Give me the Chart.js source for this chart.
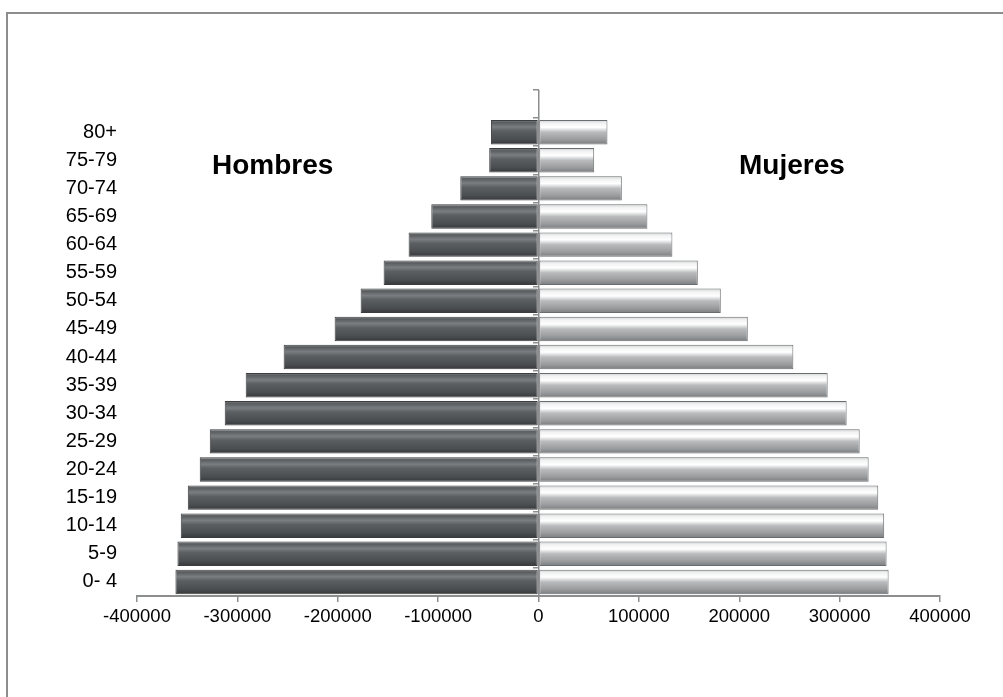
<!DOCTYPE html>
<html>
<head>
<meta charset="utf-8">
<script src="https://cdn.jsdelivr.net/npm/chart.js@4"></script>
<style>
  body { margin: 0; background: #fff; }
  #wrap { position: relative; width: 1003px; height: 697px; overflow: hidden; }
  #frame { position: absolute; left: 6px; top: 12px; width: 1100px; height: 800px;
           border-top: 2px solid #8c8e8e; border-left: 2px solid #8c8e8e; }
  .lbl { position: absolute; font: bold 28px "Liberation Sans", Arial, sans-serif; color: #000; }
  canvas { position: absolute; left: 0; top: 0; }
</style>
</head>
<body>
<div id="wrap">
  <div id="frame"></div>
  <canvas id="pyramid" width="1003" height="697"></canvas>
  <div class="lbl" style="left:212px; top:149px;">Hombres</div>
  <div class="lbl" style="left:739px; top:149px;">Mujeres</div>
</div>
<script>
// age groups, top to bottom (first one is the empty row above 80+)
const ageGroups = ['', '80+', '75-79', '70-74', '65-69', '60-64', '55-59', '50-54', '45-49',
  '40-44', '35-39', '30-34', '25-29', '20-24', '15-19', '10-14', '5-9', '0- 4'];
const hombres = [null, -47400, -49100, -77900, -106800, -129400, -154300, -177200, -203100,
  -253900, -291700, -312600, -327500, -337500, -349400, -356400, -359700, -361700];
const mujeres = [null, 68700, 55500, 83000, 108500, 133400, 158700, 181600, 208500,
  253900, 288100, 307000, 320000, 328900, 338500, 344400, 346800, 348800];
const xTicks = [-400000, -300000, -200000, -100000, 0, 100000, 200000, 300000, 400000];

const axisGray = '#8c8e8e';
const fontFamily = '"Liberation Sans", Arial, sans-serif';

function glossy(stops, fallback) {
  return (c) => {
    const chart = c.chart;
    if (!chart.chartArea || !chart.scales.y) return fallback;
    const y = chart.scales.y.getPixelForValue(c.dataIndex);
    const g = chart.ctx.createLinearGradient(0, y - 12, 0, y + 12);
    stops.forEach(s => g.addColorStop(s[0], s[1]));
    return g;
  };
}

const maleFill = glossy([
  [0, '#7a7d80'], [0.1, '#5a5d60'], [0.28, '#7b7e81'], [0.45, '#5c5f62'],
  [0.8, '#4b4e51'], [1, '#36383a']
], '#55585b');
const femaleFill = glossy([
  [0, '#cfd1d2'], [0.12, '#f2f2f2'], [0.3, '#ffffff'], [0.5, '#b9bbbd'],
  [0.8, '#9a9c9e'], [1, '#7b7e80']
], '#b0b2b4');

const ctx = document.getElementById('pyramid').getContext('2d');
new Chart(ctx, {
  type: 'bar',
  data: {
    labels: ageGroups,
    datasets: [{
      label: 'Hombres',
      data: hombres,
      backgroundColor: maleFill,
      borderColor: '#3a3c3e',
      borderWidth: 1,
      borderSkipped: false
    }, {
      label: 'Mujeres',
      data: mujeres,
      backgroundColor: femaleFill,
      borderColor: '#6a6d70',
      borderWidth: 1,
      borderSkipped: false
    }]
  },
  options: {
    indexAxis: 'y',
    responsive: false,
    animation: false,
    barPercentage: 0.87,
    categoryPercentage: 1,
    layout: { padding: { top: 90, right: 63, left: 0, bottom: 0 } },
    plugins: { legend: { display: false }, tooltip: { enabled: false } },
    scales: {
      x: {
        type: 'linear',
        stacked: true,
        min: -400000,
        max: 400000,
        afterBuildTicks: (s) => { s.ticks = xTicks.map(v => ({ value: v })); },
        afterFit: (s) => { s.height = 101; },
        ticks: { color: '#000', font: { family: fontFamily, size: 18.5 }, padding: 4, maxRotation: 0,
                 callback: (v) => String(v) },
        grid: {
          color: (c) => (c.tick && c.tick.value === 0 ? axisGray : 'rgba(0,0,0,0)'),
          tickColor: axisGray,
          tickLength: 6,
          lineWidth: 1.5
        },
        border: { display: true, color: axisGray, width: 2 }
      },
      y: {
        type: 'category',
        stacked: true,
        afterFit: (s) => { s.width = 137; },
        ticks: { color: '#000', font: { family: fontFamily, size: 20 }, padding: 20 },
        grid: { display: false, drawTicks: false },
        border: { display: false }
      },
      y2: {
        type: 'category',
        labels: ageGroups,
        position: { x: 0 },
        offset: true,
        ticks: { display: false },
        grid: { drawOnChartArea: false, offset: true, color: axisGray, tickLength: 6, lineWidth: 1.5 },
        border: { display: false }
      }
    }
  }
});
</script>
</body>
</html>
